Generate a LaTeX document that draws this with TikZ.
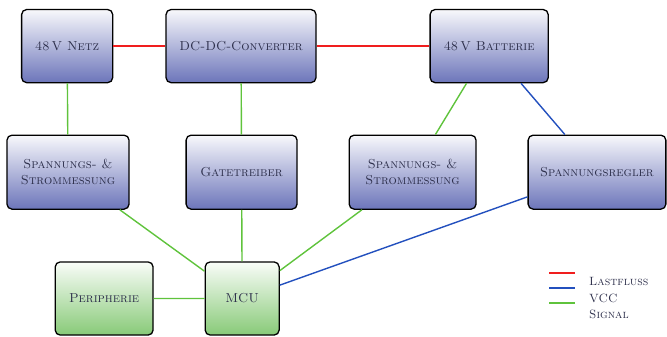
\documentclass[tikz,border=0pt]{standalone}
\usetikzlibrary{shadings}
\definecolor{boxblue}{RGB}{108,117,186}
\definecolor{boxgreen}{RGB}{136,202,120}
\definecolor{txt}{RGB}{45,47,75}
\definecolor{lastred}{RGB}{240,30,30}
\definecolor{vccblue}{RGB}{35,80,190}
\definecolor{siggreen}{RGB}{95,195,60}
\begin{document}
\begin{tikzpicture}[
    blk/.style={draw, line width=1.3pt, rounded corners=5pt, top color=white!95!boxblue, bottom color=boxblue,
        text=txt, align=center, font=\fontsize{13}{16}\selectfont\scshape, minimum height=2.57cm},
    grn/.style={blk, top color=white!95!boxgreen, bottom color=boxgreen},
    last/.style={draw=lastred, line width=1.4pt},
    vcc/.style={draw=vccblue, line width=1.4pt},
    sig/.style={draw=siggreen, line width=1.4pt},
    leg/.style={font=\fontsize{12}{14}\selectfont\scshape, text=txt, anchor=west, inner sep=0pt}]
    \useasboundingbox (0,0) rectangle (23.44,-11.81);
    % obere Reihe
    \node[blk, minimum width=3.2cm] (netz) at (2.36,-1.62) {48\,V Netz};
    \node[blk, minimum width=5.27cm] (dcdc) at (8.47,-1.62) {DC-DC-Converter};
    \node[blk, minimum width=4.15cm] (batt) at (17.19,-1.62) {48\,V Batterie};
    % mittlere Reihe
    \node[blk, minimum width=4.29cm, minimum height=2.6cm] (mess1) at (2.39,-6.05) {Spannungs- \&\\Strommessung};
    \node[blk, minimum width=3.9cm, minimum height=2.6cm] (gate) at (8.49,-6.05) {Gatetreiber};
    \node[blk, minimum width=4.46cm, minimum height=2.6cm] (mess2) at (14.5,-6.05) {Spannungs- \&\\Strommessung};
    \node[blk, minimum width=4.84cm, minimum height=2.6cm] (regler) at (20.98,-6.05) {Spannungsregler};
    % untere Reihe
    \node[grn, minimum width=3.44cm] (peri) at (3.66,-10.49) {Peripherie};
    \node[grn, minimum width=2.6cm] (mcu) at (8.51,-10.49) {MCU};
    % Verbindungen
    \draw[last] (netz) -- (dcdc) (dcdc) -- (batt);
    \draw[vcc] (batt) -- (regler) (regler) -- (mcu);
    \draw[sig] (netz) -- (mess1) (dcdc) -- (gate) (batt) -- (mess2);
    \draw[sig] (mess1) -- (mcu) (gate) -- (mcu) (mess2) -- (mcu) (peri) -- (mcu);
    % Legende
    \coordinate (l1) at (19.30,-9.60);
    \coordinate (l2) at (19.30,-10.12);
    \coordinate (l3) at (19.30,-10.65);
    \draw[last] (l1) -- ++(0.91,0);
    \draw[vcc] (l2) -- ++(0.91,0);
    \draw[sig] (l3) -- ++(0.91,0);
    \node[leg] (t1) at (20.70,-9.90) {Lastfluss};
    \node[leg] (t2) at (20.70,-10.47) {VCC};
    \node[leg] (t3) at (20.70,-11.04) {Signal};
\end{tikzpicture}
\end{document}
